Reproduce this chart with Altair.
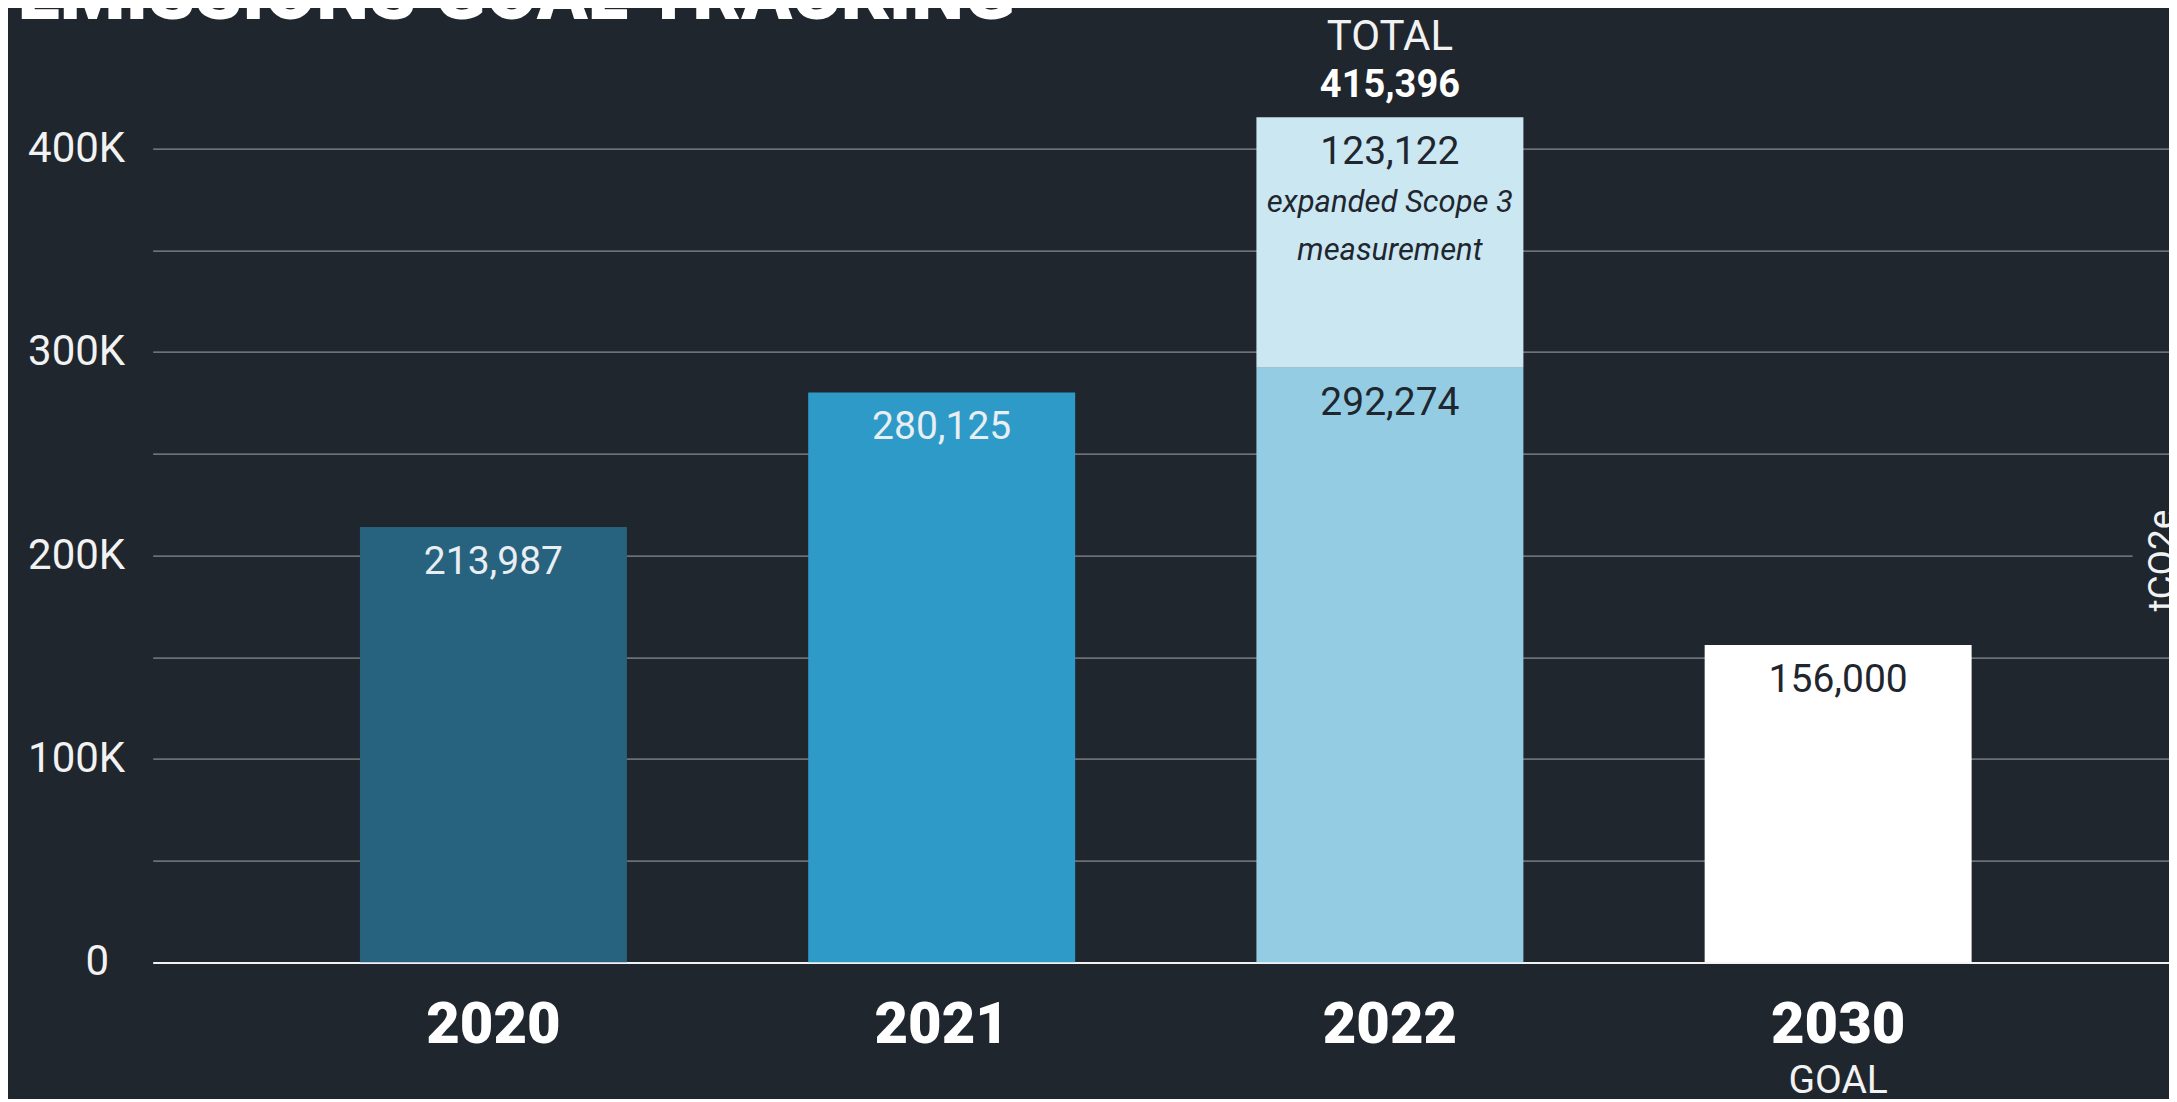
import altair as alt
import pandas as pd

# ---- data ----
years = ["2020", "2021", "2022", "2030"]
seg_year = ["2020", "2021", "2022", "2022", "2030"]
seg_value = [213987, 280125, 292274, 123122, 156000]
seg_label = ["213,987", "280,125", "292,274", "123,122", "156,000"]
seg_fill = ["#27627f", "#2e9ac8", "#94cde3", "#cbe7f2", "#ffffff"]
seg_text = ["#e8eef2", "#e8eef2", "#1f262e", "#1f262e", "#1f262e"]

total_year = ["2022"]
total_value = [415396]
total_label = ["415,396"]
note_text = ["expanded Scope 3\nmeasurement"]
goal_year = ["2030"]
goal_text = ["GOAL"]
title_text = ["EMISSIONS GOAL TRACKING"]
unit_text = ["tCO2e"]
y_ticks = [0, 50000, 100000, 150000, 200000, 250000, 300000, 350000, 400000]
zero_tick = [0]
zero_label = ["0"]

BG = "#1f262e"

df = pd.DataFrame({"year": seg_year, "value": seg_value, "label": seg_label,
                   "fill": seg_fill, "tcolor": seg_text})
df["end"] = df.groupby("year")["value"].cumsum()
df["start"] = df["end"] - df["value"]

tot = pd.DataFrame({"year": total_year, "v": total_value, "label": total_label,
                    "word": ["TOTAL"], "note": note_text})
goal = pd.DataFrame({"year": goal_year, "t": goal_text})
zero_df = pd.DataFrame({"v": zero_tick, "t": zero_label})

xscale = alt.Scale(domain=years, paddingInner=0.4044, paddingOuter=0.451, align=0.5126)
yscale = alt.Scale(domain=[0, 400000], nice=False, zero=True)

x_axis = alt.Axis(title=None, labelAngle=0, labelFont="Roboto", labelFontSize=58,
                  labelFontWeight=900, labelColor="#ffffff", labelPadding=80,
                  labelBaseline="alphabetic", ticks=False, domain=False, grid=False)
y_axis = alt.Axis(title=None, values=y_ticks,
                  labelExpr="(datum.value % 100000 != 0 || datum.value == 0) ? '' : (datum.value/1000) + 'K'",
                  labelFont="Roboto", labelFontSize=42, labelColor="#f2f2f2",
                  labelPadding=28, ticks=False, domain=False, grid=True,
                  gridColor={"condition": {"test": "datum.value === 0", "value": "#f2f2f2"}, "value": "#a3a7ab"},
                  gridWidth={"condition": {"test": "datum.value === 0", "value": 2}, "value": 1})


def X():
    return alt.X("year:N", sort=years, scale=xscale, axis=x_axis)


def Y(field):
    return alt.Y(field, scale=yscale, axis=y_axis, title=None)


bars = alt.Chart(df).mark_bar().encode(
    x=X(),
    y=Y("start:Q"),
    y2="end:Q",
    color=alt.Color("fill:N", scale=None),
)

labels = alt.Chart(df).mark_text(dy=47, baseline="alphabetic", align="center",
                                 font="Roboto", fontSize=39).encode(
    x=X(),
    y=Y("end:Q"),
    text="label:N",
    color=alt.Color("tcolor:N", scale=None),
)

note = alt.Chart(tot).mark_text(dy=95, baseline="alphabetic", align="center",
                                lineBreak="\n", lineHeight=48,
                                font="Roboto", fontStyle="italic",
                                fontSize=31, color="#1f262e").encode(
    x=X(),
    y=Y("v:Q"),
    text="note:N",
)

total_num = alt.Chart(tot).mark_text(dy=-20, baseline="alphabetic", align="center",
                                     font="Roboto", fontWeight="bold", fontSize=38,
                                     color="#ffffff").encode(
    x=X(),
    y=Y("v:Q"),
    text="label:N",
)

total_word = alt.Chart(tot).mark_text(dy=-67, baseline="alphabetic", align="center",
                                      font="Roboto", fontSize=42,
                                      color="#f2f2f2").encode(
    x=X(),
    y=Y("v:Q"),
    text="word:N",
)

goal_lbl = alt.Chart(goal).mark_text(baseline="alphabetic", align="center",
                                     font="Roboto", fontSize=39,
                                     color="#f2f2f2").encode(
    x=X(),
    y=alt.value(944),
    text="t:N",
)

zero_lbl = alt.Chart(zero_df).mark_text(align="right", baseline="middle",
                                        font="Roboto", fontSize=42,
                                        color="#f2f2f2").encode(
    x=alt.value(-43.7),
    y=Y("v:Q"),
    text="t:N",
)

unit_bg = alt.Chart(pd.DataFrame({"t": unit_text})).mark_rect(color=BG).encode(
    x=alt.value(1980), x2=alt.value(2030), y=alt.value(380), y2=alt.value(445),
)

unit = alt.Chart(pd.DataFrame({"t": unit_text})).mark_text(
    angle=270, align="center", baseline="alphabetic", font="Roboto",
    fontSize=37, color="#f2f2f2").encode(
    x=alt.value(2021), y=alt.value(412), text="t:N",
)

title = alt.Chart(pd.DataFrame({"t": title_text})).mark_text(
    align="left", baseline="alphabetic", font="Roboto", fontWeight=900,
    fontSize=75, color="#ffffff").encode(
    x=alt.value(-135), y=alt.value(-129.6), text="t:N",
)

chart = alt.layer(bars, labels, note, total_num, total_word, goal_lbl, zero_lbl,
                  unit_bg, unit, title).properties(
    width=2016, height=813.6, background=BG,
    autosize=alt.AutoSizeParams(type="none"),
    padding={"left": 144.7, "top": 140.6, "right": 0, "bottom": 137},
).configure_view(stroke=None)

chart.save("out.html", embed_options={"renderer": "svg", "actions": False})
